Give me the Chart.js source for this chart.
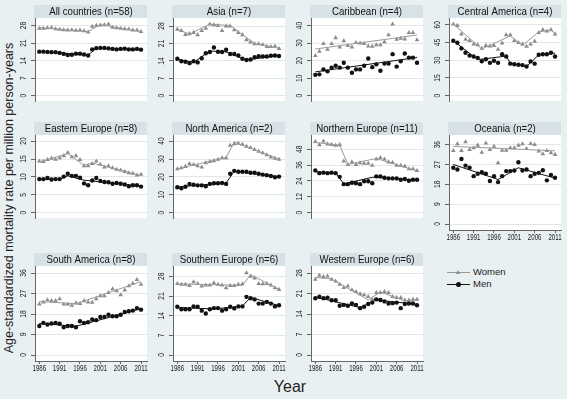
<!DOCTYPE html>
<html>
<head>
<meta charset="utf-8">
<script src="https://cdn.jsdelivr.net/npm/chart.js@4.4.1/dist/chart.umd.min.js"></script>
<style>
  body { margin: 0; width: 567px; height: 399px; overflow: hidden; position: relative;
         background: #e9f0f2; font-family: "Liberation Sans", Arial, sans-serif; }
  canvas { position: absolute; }
  #ytitle { position: absolute; left: 9px; top: 198px; transform: translate(-50%, -50%) rotate(-90deg);
            white-space: nowrap; font-size: 12.5px; color: #222; }
  #xtitle { position: absolute; left: 290px; top: 387px; transform: translate(-50%, -50%);
            font-size: 16px; color: #222; }
  .leg { position: absolute; font-size: 9.5px; color: #222; }
  .legline { position: absolute; height: 1px; width: 23px; }
</style>
</head>
<body>
<div id="ytitle">Age-standardized mortality rate per million person-years</div>
<div id="xtitle">Year</div>
<div class="legline" style="left:447px;top:272px;background:#999"></div>
<div style="position:absolute;left:456px;top:270px;width:0;height:0;border-left:2.5px solid transparent;border-right:2.5px solid transparent;border-bottom:4px solid #8c8c8c"></div>
<div class="leg" style="left:473px;top:266px">Women</div>
<div class="legline" style="left:447px;top:284px;background:#111"></div>
<div style="position:absolute;left:456px;top:282px;width:5px;height:5px;border-radius:50%;background:#111"></div>
<div class="leg" style="left:473px;top:278px">Men</div>

<script>
// years of observation and x-axis labels
const years = [1986, 1987, 1988, 1989, 1990, 1991, 1992, 1993, 1994, 1995, 1996, 1997, 1998,
               1999, 2000, 2001, 2002, 2003, 2004, 2005, 2006, 2007, 2008, 2009, 2010, 2011];
const xTicks = [1986, 1991, 1996, 2001, 2006, 2011];

// All countries
const allWomen = [26.9, 26.9, 27.1, 27.2, 26.7, 26.5, 26.3, 26.2, 26.3, 26.1, 26.2, 25.9, 25.4, 27.7, 28.1, 28.2, 28.3, 28.6, 27.3, 27.1, 26.9, 26.7, 26.6, 26.2, 26.2, 25.6];
const allMen = [17.6, 17.6, 17.5, 17.4, 17.4, 17.1, 16.7, 16.3, 16.4, 16.8, 16.8, 16.5, 16.1, 18.5, 19.0, 19.1, 19.1, 18.9, 18.7, 18.5, 18.7, 18.8, 18.5, 18.5, 18.7, 18.4];
const allWomenFit = [[1986, 27.2], [1998, 25.6], [2001, 28.4], [2011, 25.6]];
const allMenFit = [[1986, 17.7], [1998, 16.2], [2000, 19.0], [2011, 18.5]];
const allTicks = [0, 7, 14, 21, 28];

// Asia
const asiaWomen = [26.7, 26.2, 24.6, 24.9, 25.4, 24.5, 26.2, 27.1, 28.8, 28.5, 28.2, 26.2, 28.0, 28.0, 26.5, 25.4, 24.5, 22.5, 21.6, 20.8, 20.8, 20.5, 19.7, 19.7, 19.9, 18.9];
const asiaMen = [14.9, 13.9, 13.7, 13.1, 13.9, 13.4, 15.1, 17.1, 17.6, 19.4, 17.7, 17.6, 18.5, 16.8, 16.8, 16.2, 14.9, 14.4, 14.6, 15.5, 15.9, 15.8, 15.8, 16.1, 16.2, 16.0];
const asiaWomenFit = [[1986, 26.7], [1989, 24.8], [1994, 28.8], [1999, 28.2], [2005, 21.0], [2011, 19.1]];
const asiaMenFit = [[1986, 14.7], [1990, 13.4], [1994, 18.0], [1998, 17.6], [2003, 14.4], [2011, 16.2]];
const asiaTicks = [0, 7, 14, 21, 28];

// Caribbean
const caribWomen = [22.8, 25.3, 29.7, 26.4, 29.7, 33.0, 27.7, 31.3, 28.5, 27.7, 30.2, 29.9, 29.7, 28.2, 28.1, 28.9, 28.9, 30.7, 34.6, 40.8, 32.1, 32.6, 32.3, 35.9, 35.9, 31.8];
const caribMen = [11.9, 12.2, 15.0, 13.9, 16.0, 17.1, 16.0, 18.8, 16.0, 13.1, 15.0, 15.0, 17.1, 21.2, 16.3, 17.9, 14.2, 18.3, 18.3, 23.7, 16.6, 19.6, 24.1, 21.7, 21.7, 18.8];
const caribWomenFit = [[1986, 26.6], [2011, 34.6]];
const caribMenFit = [[1986, 13.6], [2011, 21.8]];
const caribTicks = [0, 10, 20, 30, 40];

// Central America
const camWomen = [60.5, 59.3, 52.1, 47.5, 46.5, 43.6, 42.9, 40.0, 42.4, 41.9, 42.4, 39.2, 44.5, 51.3, 51.3, 46.5, 44.8, 43.6, 41.6, 43.6, 46.0, 53.3, 55.7, 54.5, 55.7, 52.1];
const camMen = [46.5, 44.8, 40.0, 36.3, 33.9, 33.2, 32.0, 29.1, 30.8, 27.8, 29.5, 27.8, 35.1, 33.2, 27.1, 26.6, 26.2, 25.9, 24.7, 29.0, 27.1, 34.6, 35.1, 35.1, 36.3, 33.2];
const camWomenFit = [[1986, 60.5], [1993, 39.5], [2000, 50.5], [2003, 42.5], [2007, 54.0], [2010, 55.5], [2011, 52.5]];
const camMenFit = [[1986, 46.5], [1992, 30.5], [1999, 33.5], [2000, 27.5], [2004, 24.8], [2007, 34.5], [2011, 36.0]];
const camTicks = [0, 15, 30, 45, 60];

// Eastern Europe
const eeWomen = [14.4, 14.3, 14.8, 15.2, 14.9, 15.3, 15.9, 16.8, 15.6, 15.9, 14.8, 13.1, 13.1, 13.7, 14.4, 13.5, 12.7, 13.1, 12.5, 12.1, 11.9, 11.5, 11.1, 11.0, 10.5, 10.7];
const eeMen = [9.4, 9.4, 9.7, 9.3, 9.4, 9.4, 10.1, 10.9, 10.3, 10.3, 9.8, 8.2, 7.7, 9.0, 9.7, 8.9, 8.6, 8.5, 8.1, 8.3, 8.1, 7.9, 7.4, 7.7, 7.7, 7.3];
const eeWomenFit = [[1986, 14.2], [1993, 16.5], [1997, 13.2], [1999, 13.9], [2011, 10.4]];
const eeMenFit = [[1986, 9.3], [1991, 9.4], [1993, 10.3], [1997, 9.1], [2011, 7.4]];
const eeTicks = [0, 5, 10, 15, 20];

// North America
const naWomen = [24.5, 25.0, 25.8, 27.4, 26.9, 26.1, 25.5, 27.9, 28.5, 29.0, 29.8, 30.6, 30.6, 37.6, 38.4, 38.7, 38.2, 37.1, 36.3, 35.2, 34.2, 33.4, 32.3, 31.0, 30.3, 29.8];
const naMen = [14.2, 13.7, 14.5, 16.1, 15.6, 15.3, 15.3, 14.8, 16.1, 16.5, 16.5, 16.6, 16.1, 21.8, 23.4, 22.9, 22.9, 22.9, 22.3, 22.3, 21.8, 21.3, 21.0, 20.5, 19.8, 20.2];
const naWomenFit = [[1986, 24.6], [1998, 30.8], [2000, 39.5], [2011, 30.0]];
const naMenFit = [[1986, 14.4], [1998, 16.6], [2000, 23.2], [2011, 20.0]];
const naTicks = [0, 10, 20, 30, 40];

// Northern Europe
const neWomen = [53.7, 51.3, 54.1, 51.9, 51.5, 50.9, 51.3, 39.0, 36.4, 38.3, 36.4, 37.7, 37.2, 37.2, 35.7, 40.5, 41.6, 40.5, 38.3, 37.9, 35.7, 35.7, 35.1, 33.1, 33.1, 31.8];
const neMen = [32.0, 29.9, 30.3, 29.9, 30.3, 29.9, 27.1, 21.6, 21.6, 22.7, 22.3, 21.6, 23.8, 23.8, 22.3, 27.5, 27.5, 26.4, 26.0, 26.0, 26.0, 24.9, 25.5, 24.2, 24.9, 24.9];
const neWomenFit = [[1986, 53.0], [1992, 51.0], [1994, 36.5], [2001, 41.0], [2011, 31.6]];
const neMenFit = [[1986, 31.0], [1991, 30.0], [1993, 21.8], [2000, 26.8], [2011, 24.8]];
const neTicks = [0, 12, 24, 36, 48];

// Oceania
const ocWomen = [33.3, 36.3, 33.3, 37.2, 33.7, 34.5, 35.7, 32.5, 36.7, 33.7, 35.2, 27.7, 33.4, 33.4, 34.5, 34.5, 35.7, 36.3, 34.2, 36.4, 36.0, 33.0, 31.8, 33.3, 32.2, 31.5];
const ocMen = [25.5, 24.7, 29.5, 26.5, 25.5, 21.7, 22.8, 23.5, 22.8, 19.5, 21.7, 19.0, 21.7, 24.0, 24.0, 24.3, 28.0, 24.3, 24.7, 21.7, 22.8, 23.2, 24.4, 19.8, 22.2, 21.0];
const ocWomenFit = [[1986, 35.2], [2011, 33.2]];
const ocMenFit = [[1986, 27.0], [1997, 20.2], [2002, 25.5], [2011, 20.8]];
const ocTicks = [0, 9, 18, 27, 36];

// South America
const saWomen = [22.3, 23.2, 24.2, 23.8, 23.8, 24.6, 22.3, 22.3, 21.8, 22.8, 22.5, 23.8, 23.2, 23.1, 24.6, 25.9, 25.9, 27.4, 29.0, 28.1, 26.4, 28.5, 30.3, 31.4, 33.1, 31.0];
const saMen = [12.7, 14.1, 13.4, 13.8, 14.1, 13.7, 12.2, 12.7, 12.7, 12.2, 14.8, 14.1, 14.4, 15.6, 15.3, 16.7, 16.7, 17.7, 17.0, 17.0, 17.7, 18.9, 19.2, 19.5, 20.6, 19.9];
const saWomenFit = [[1986, 23.5], [1995, 22.5], [2011, 32.2]];
const saMenFit = [[1986, 13.9], [1995, 12.6], [2011, 20.3]];
const saTicks = [0, 9, 18, 27, 36];

// Southern Europe
const seWomen = [25.4, 25.1, 25.1, 24.7, 26.0, 25.4, 24.5, 24.9, 24.9, 25.7, 25.1, 24.9, 23.9, 24.7, 24.7, 25.1, 25.3, 29.2, 28.0, 27.4, 25.4, 25.3, 25.4, 24.9, 23.9, 23.3];
const seMen = [17.2, 16.3, 16.3, 16.3, 17.3, 17.2, 15.8, 14.8, 16.3, 16.7, 16.7, 15.8, 16.3, 17.2, 16.6, 17.3, 17.3, 20.7, 20.2, 19.8, 18.3, 18.3, 18.9, 18.3, 17.3, 17.7];
const seWomenFit = [[1986, 25.3], [2002, 24.8], [2004, 28.6], [2011, 23.4]];
const seMenFit = [[1986, 16.9], [1995, 16.4], [2002, 17.4], [2004, 20.5], [2011, 17.6]];
const seTicks = [0, 7, 14, 21, 28];

// Western Europe
const weWomen = [25.8, 27.2, 26.7, 26.9, 25.8, 25.2, 24.1, 23.0, 23.5, 22.2, 21.6, 20.9, 20.5, 19.9, 19.0, 21.3, 21.3, 21.6, 21.3, 19.9, 19.6, 19.6, 18.7, 18.7, 19.0, 19.0];
const weMen = [19.4, 19.9, 19.4, 19.6, 18.7, 18.7, 16.8, 17.1, 16.8, 17.6, 17.1, 16.0, 16.5, 17.4, 17.9, 19.0, 18.8, 18.3, 17.6, 17.7, 17.9, 16.0, 17.4, 17.6, 17.6, 17.0];
const weWomenFit = [[1986, 26.5], [1990, 26.0], [1999, 18.8], [2002, 21.5], [2008, 18.5], [2011, 19.0]];
const weMenFit = [[1986, 19.8], [1997, 16.2], [2001, 18.8], [2011, 17.3]];
const weTicks = [0, 7, 14, 21, 28];

const panels = [
    { title: 'All countries (n=58)', women: allWomen, men: allMen, wFit: allWomenFit, mFit: allMenFit, ticks: allTicks, col: 0, row: 0, xAxis: false },
    { title: 'Asia (n=7)', women: asiaWomen, men: asiaMen, wFit: asiaWomenFit, mFit: asiaMenFit, ticks: asiaTicks, col: 1, row: 0, xAxis: false },
    { title: 'Caribbean (n=4)', women: caribWomen, men: caribMen, wFit: caribWomenFit, mFit: caribMenFit, ticks: caribTicks, col: 2, row: 0, xAxis: false },
    { title: 'Central America (n=4)', women: camWomen, men: camMen, wFit: camWomenFit, mFit: camMenFit, ticks: camTicks, col: 3, row: 0, xAxis: false },
    { title: 'Eastern Europe (n=8)', women: eeWomen, men: eeMen, wFit: eeWomenFit, mFit: eeMenFit, ticks: eeTicks, col: 0, row: 1, xAxis: false },
    { title: 'North America (n=2)', women: naWomen, men: naMen, wFit: naWomenFit, mFit: naMenFit, ticks: naTicks, col: 1, row: 1, xAxis: false },
    { title: 'Northern Europe (n=11)', women: neWomen, men: neMen, wFit: neWomenFit, mFit: neMenFit, ticks: neTicks, col: 2, row: 1, xAxis: false },
    { title: 'Oceania (n=2)', women: ocWomen, men: ocMen, wFit: ocWomenFit, mFit: ocMenFit, ticks: ocTicks, col: 3, row: 1, xAxis: true },
    { title: 'South America (n=8)', women: saWomen, men: saMen, wFit: saWomenFit, mFit: saMenFit, ticks: saTicks, col: 0, row: 2, xAxis: true },
    { title: 'Southern Europe (n=6)', women: seWomen, men: seMen, wFit: seWomenFit, mFit: seMenFit, ticks: seTicks, col: 1, row: 2, xAxis: true },
    { title: 'Western Europe (n=6)', women: weWomen, men: weMen, wFit: weWomenFit, mFit: weMenFit, ticks: weTicks, col: 2, row: 2, xAxis: true }
];

// layout of the small multiples
const COL_LEFT = [35, 173, 311, 449];
const ROW_TOP = [5, 122, 253];
const PLOT_W = 112, PLOT_H = 95, STRIP_H = 13, LABEL_W = 22, AXIS_H = 12, RIGHT_PAD = 8;
const FONT = '"Liberation Sans", Arial, sans-serif';
const STRIP_BG = '#d7e2e7';
const GRID = '#dfe7ea';
const AXIS = '#666666';

function drawText(ctx, text, x, y, size, sx, angle, color) {
    ctx.save();
    ctx.translate(x, y);
    if (angle) ctx.rotate(angle);
    ctx.scale(sx, 1);
    ctx.font = size + 'px ' + FONT;
    ctx.textAlign = 'center';
    ctx.textBaseline = 'middle';
    ctx.fillStyle = color;
    ctx.fillText(text, 0, 0);
    ctx.restore();
}

// strip title, white plot region and condensed tick labels
function makeDecor(p) {
    return {
        id: 'decor',
        beforeDraw(chart) {
            const ctx = chart.ctx, a = chart.chartArea;
            ctx.save();
            ctx.fillStyle = '#ffffff';
            ctx.fillRect(a.left, a.top, a.right - a.left, a.bottom - a.top);
            ctx.fillStyle = STRIP_BG;
            ctx.fillRect(a.left - 1, 0, a.right - a.left + 1, STRIP_H);
            ctx.restore();
            drawText(ctx, p.title, (a.left + a.right) / 2, STRIP_H / 2 + 0.5, 10.5, 0.92, 0, '#111');
        },
        afterDraw(chart) {
            const ctx = chart.ctx, a = chart.chartArea;
            const ys = chart.scales.y, xs = chart.scales.x;
            p.ticks.forEach(v => {
                drawText(ctx, String(v), a.left - 11, ys.getPixelForValue(v), 9, 0.74, -Math.PI / 2, '#222');
            });
            if (p.xAxis) {
                xTicks.forEach(v => {
                    drawText(ctx, String(v), xs.getPixelForValue(v), a.bottom + 7.5, 9, 0.68, 0, '#222');
                });
            }
        }
    };
}

function toPoints(values) {
    return values.map((v, i) => ({ x: years[i], y: v }));
}

function toLine(knots) {
    return knots.map(k => ({ x: k[0], y: k[1] }));
}

panels.forEach(p => {
    const canvas = document.createElement('canvas');
    const w = LABEL_W + PLOT_W + RIGHT_PAD;
    const h = STRIP_H + PLOT_H + (p.xAxis ? AXIS_H : 0);
    canvas.width = w;
    canvas.height = h;
    canvas.style.width = w + 'px';
    canvas.style.height = h + 'px';
    canvas.style.left = (COL_LEFT[p.col] - LABEL_W) + 'px';
    canvas.style.top = ROW_TOP[p.row] + 'px';
    document.body.appendChild(canvas);

    // axis range runs from 0 to the larger of the top tick and the data
    const axMax = Math.max(p.ticks[p.ticks.length - 1], ...p.women, ...p.men);

    new Chart(canvas.getContext('2d'), {
        type: 'scatter',
        data: {
            datasets: [
                { data: toLine(p.mFit), showLine: true, borderColor: '#111', borderWidth: 1, pointRadius: 0 },
                { data: toPoints(p.men), pointStyle: 'circle', pointRadius: 2.2, backgroundColor: '#111', borderWidth: 0 },
                { data: toLine(p.wFit), showLine: true, borderColor: '#9a9a9a', borderWidth: 1, pointRadius: 0 },
                { data: toPoints(p.women), pointStyle: 'triangle', pointRadius: 2.7, backgroundColor: '#8c8c8c', borderWidth: 0 }
            ]
        },
        options: {
            responsive: false,
            devicePixelRatio: 1,
            animation: false,
            layout: { padding: { left: LABEL_W - 4, top: STRIP_H, right: RIGHT_PAD, bottom: 0 } },
            plugins: { legend: { display: false }, tooltip: { enabled: false } },
            scales: {
                x: {
                    type: 'linear',
                    display: p.xAxis,
                    min: 1984.94,
                    max: 2012.47,
                    afterBuildTicks: s => { s.ticks = xTicks.map(v => ({ value: v })); },
                    afterFit: s => { s.height = AXIS_H; s.paddingLeft = 0; s.paddingRight = 0; },
                    ticks: { display: false },
                    grid: { drawOnChartArea: false, drawTicks: true, tickLength: 3, tickColor: AXIS },
                    border: { display: true, color: AXIS, width: 1 }
                },
                y: {
                    min: -axMax * 6 / 82,
                    max: axMax * (1 + 7 / 82),
                    afterBuildTicks: s => { s.ticks = p.ticks.map(v => ({ value: v })); },
                    afterFit: s => { s.width = 4; },
                    ticks: { display: false },
                    grid: { color: GRID, lineWidth: 1, drawTicks: true, tickLength: 4, tickColor: AXIS },
                    border: { display: true, color: AXIS, width: 1 }
                }
            }
        },
        plugins: [makeDecor(p)]
    });
});
</script>
</body>
</html>
